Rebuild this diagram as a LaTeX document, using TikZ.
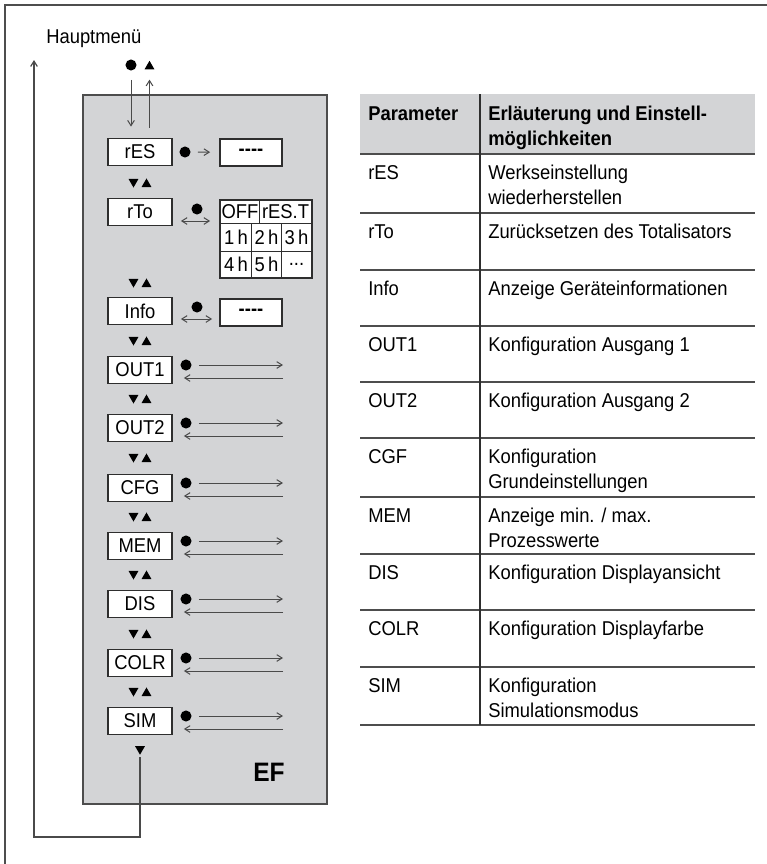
\documentclass[tikz,border=0pt]{standalone}
\usepackage{fontspec}
\setmainfont[FakeStretch=0.92]{Liberation Sans}
\usetikzlibrary{arrows.meta,shapes.geometric,calc,fit}
\definecolor{boxgray}{HTML}{D3D4D6}
\definecolor{linedark}{HTML}{2E2E2E}
\definecolor{arrgray}{HTML}{4A4A4A}
\definecolor{framegray}{HTML}{4D4D4D}
\newcommand{\fsize}{\fontsize{15}{18}\selectfont}
\begin{document}
\begin{tikzpicture}[x=0.75pt,y=-0.75pt,
  font=\fsize,
  pbox/.style={draw=linedark, line width=1.3pt, fill=white, minimum width=48pt, minimum height=20.25pt, inner sep=0pt},
  dbox/.style={draw=linedark, line width=1.3pt, fill=white, minimum width=46.5pt, minimum height=20.25pt, inner sep=0pt, font=\bfseries\fsize},
  cell/.style={draw=linedark, line width=0.8pt, fill=white, inner sep=0pt, anchor=north west},
  dotn/.style={circle, fill=black, inner sep=0pt, minimum size=8.3pt},
  uptri/.style={regular polygon, regular polygon sides=3, fill=black, inner sep=0pt, minimum size=8.6pt},
  dntri/.style={uptri, shape border rotate=180},
  arr/.style={draw=arrgray, line width=0.75pt, -{Straight Barb[length=4pt,width=5pt]}},
  darr/.style={draw=arrgray, line width=0.75pt, {Straight Barb[length=4pt,width=5pt]}-{Straight Barb[length=4pt,width=5pt]}},
  txt/.style={anchor=base west, inner sep=0pt},
  btxt/.style={txt, font=\bfseries\fsize},
  sep/.style={draw=framegray, line width=1.2pt}]
\useasboundingbox (0,0) rectangle (767,864);
% outer frame
\draw[draw=framegray, line width=1.6pt] (5,864) -- (5,5) -- (767,5);
% main panel
\filldraw[fill=boxgray, draw=framegray, line width=1.1pt] (83,95) rectangle (327,804);
% header
\node[txt] (hm) at (46,43) {Hauptmenü};
\node[dotn] (topDot) at (131,65) {};
\node[uptri] (topTri) at (149.5,66.5) {};
% parameter boxes
\node[pbox] (rES) at (140,152) {rES};
\node[pbox] (rTo) at (140,212) {rTo};
\node[pbox] (Info) at (140,311) {Info};
\draw[arr, shorten <=6.75pt, shorten >=8.25pt] (topDot) -- (topDot |- rES.north);
\draw[arr, shorten <=7.5pt, shorten >=7.5pt] (rES.north -| topTri) -- (topTri);
% up/down pairs
\foreach \y [count=\i] in {183,283,341,399,458,517,575,634,692} {
  \node[dntri] (pd\i) at (133.5,{\y-1.2}) {};
  \node[uptri] (pu\i) at (146.5,{\y+1.2}) {};
}
% rES row
\node[dotn] (drES) at (185,152) {};
\node[dbox] (dashES) at (251,152.5) {{-}{-}{-}{-}};
\draw[arr, shorten <=5.25pt, shorten >=6.75pt] (drES) -- (dashES);
% rTo row
\node[dotn] (drTo) at (197,209) {};
\node[cell, minimum width=29.25pt, minimum height=17.25pt] (c11) at (220,200) {OFF};
\node[cell, minimum width=39pt, minimum height=17.25pt] (c12) at (259,200) {rES.T};
\node[cell, minimum width=23.25pt, minimum height=21pt] (c21) at (220,223) {1\,h};
\node[cell, minimum width=22.5pt, minimum height=21pt] (c22) at (251,223) {2\,h};
\node[cell, minimum width=22.5pt, minimum height=21pt] (c23) at (281,223) {3\,h};
\node[cell, minimum width=23.25pt, minimum height=19.5pt] (c31) at (220,251) {4\,h};
\node[cell, minimum width=22.5pt, minimum height=19.5pt] (c32) at (251,251) {5\,h};
\node[cell, minimum width=22.5pt, minimum height=19.5pt] (c33) at (281,251) {...};
\node[fit=(c11)(c12)(c33), draw=linedark, line width=1.3pt, inner sep=0pt] (optTab) {};
\draw[darr, shorten <=6pt, shorten >=6.75pt] ([yshift=-6.75pt]rTo.east) -- ([yshift=-6.75pt]rTo.east -| optTab.west);
% Info row
\node[dotn] (dInfo) at (197,307) {};
\node[dbox] (dashInfo) at (251,312.5) {{-}{-}{-}{-}};
\draw[darr, shorten <=6pt, shorten >=5.25pt] ([yshift=-6pt]Info.east) -- ([yshift=-6pt]Info.east -| dashInfo.west);
% submenu rows
\foreach \n/\y in {OUT1/370, OUT2/428, CFG/488, MEM/546, DIS/604, COLR/663, SIM/721} {
  \node[pbox] (\n) at (140,\y) {\n};
  \node[dotn] (d\n) at (186,{\y-5}) {};
  \coordinate (r\n) at (283,{\y-5});
  \coordinate (l\n) at (283,{\y+8});
  \draw[arr, shorten <=5.25pt] (d\n) -- (r\n);
  \draw[arr, shorten >=8.25pt] (l\n) -- (\n.east |- l\n);
}
% return path
\node[dntri] (simDn) at (140,749) {};
\coordinate (rb) at (140,837);
\coordinate (lb) at (34,837);
\coordinate (lt) at (34,60);
\draw[draw=arrgray, line width=0.9pt, -{Straight Barb[length=4pt,width=5pt]}, shorten <=1.5pt] (simDn.south) -- (rb) -- (lb) -- (lt);
\node[txt, font=\bfseries\fontsize{20}{24}\selectfont] (ef) at (253,781) {EF};
% table
\fill[boxgray] (360,94) rectangle (755,154);
\foreach \yy in {154,213,270,326,382,438,497,554,610,667,725} {
  \draw[sep] (360,\yy) -- (755,\yy);
}
\draw[draw=linedark, line width=1.2pt] (480,94) -- (480,725);
\node[btxt] (hP) at (368,120) {Parameter};
\node[btxt] (hE1) at (488,120) {Erläuterung und Einstell-};
\node[btxt] (hE2) at (488,145) {möglichkeiten};
\node[txt] (t1) at (368,179) {rES};
\node[txt] (e1a) at (488,179) {Werkseinstellung};
\node[txt] (e1b) at (488,204) {wiederherstellen};
\node[txt] (t2) at (368,238) {rTo};
\node[txt] (e2) at (488,238) {Zurücksetzen des Totalisators};
\node[txt] (t3) at (368,295) {Info};
\node[txt] (e3) at (488,295) {Anzeige Geräteinformationen};
\node[txt] (t4) at (368,351) {OUT1};
\node[txt] (e4) at (488,351) {Konfiguration Ausgang 1};
\node[txt] (t5) at (368,407) {OUT2};
\node[txt] (e5) at (488,407) {Konfiguration Ausgang 2};
\node[txt] (t6) at (368,463) {CGF};
\node[txt] (e6a) at (488,463) {Konfiguration};
\node[txt] (e6b) at (488,488) {Grundeinstellungen};
\node[txt] (t7) at (368,522) {MEM};
\node[txt] (e7a) at (488,522) {Anzeige min. / max.};
\node[txt] (e7b) at (488,547) {Prozesswerte};
\node[txt] (t8) at (368,579) {DIS};
\node[txt] (e8) at (488,579) {Konfiguration Displayansicht};
\node[txt] (t9) at (368,635) {COLR};
\node[txt] (e9) at (488,635) {Konfiguration Displayfarbe};
\node[txt] (t10) at (368,692) {SIM};
\node[txt] (e10a) at (488,692) {Konfiguration};
\node[txt] (e10b) at (488,717) {Simulationsmodus};
\end{tikzpicture}
\end{document}
